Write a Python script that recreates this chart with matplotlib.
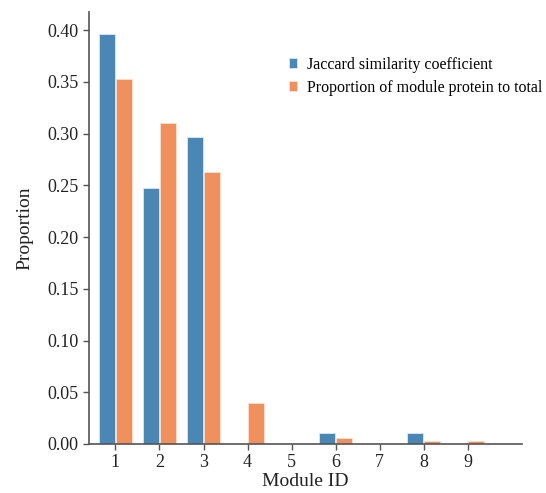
import matplotlib
matplotlib.use("Agg")
import matplotlib.pyplot as plt
import numpy as np

modules = [1, 2, 3, 4, 5, 6, 7, 8, 9]
jaccard = [0.396, 0.247, 0.297, 0.0, 0.0, 0.0104, 0.0, 0.0104, 0.0]
proportion = [0.353, 0.310, 0.263, 0.0394, 0.0, 0.0055, 0.0, 0.0032, 0.0032]
yticks = [0.00, 0.05, 0.10, 0.15, 0.20, 0.25, 0.30, 0.35, 0.40]

plt.rcParams['font.family'] = ['Liberation Serif', 'DejaVu Serif']

fig = plt.figure(figsize=(5.46, 4.93), dpi=100)
ax = fig.add_axes([0.163, 0.0994, 0.793, 0.8763])

x = np.array(modules, dtype=float)
w = 0.365
ax.bar(x - 0.19, jaccard, width=w, color='#4a87b5', edgecolor='#dbe8f3', linewidth=0.6,
       label='Jaccard similarity coefficient')
ax.bar(x + 0.19, proportion, width=w, color='#f0905c', edgecolor='#fbe0cf', linewidth=0.6,
       label='Proportion of module protein to total')

ax.set_xlim(0.4, 10.23)
ax.set_ylim(0, 0.4175)
ax.set_xticks(modules)
ax.set_yticks(yticks)
ax.set_yticklabels([f'{v:.2f}' for v in yticks])
for s in ['top', 'right']:
    ax.spines[s].set_visible(False)
for s in ['left', 'bottom']:
    ax.spines[s].set_color('#555555')
    ax.spines[s].set_linewidth(1.2)
ax.tick_params(axis='both', labelsize=13, length=4, width=1, color='#555555', labelcolor='#222222')
ax.tick_params(axis='x', pad=3)
ax.set_xlabel('Module ID', fontsize=14, color='#222222', labelpad=2)
ax.set_ylabel('Proportion', fontsize=14, color='#222222', labelpad=10)

ax.legend(loc='upper left', bbox_to_anchor=(0.428, 0.93), frameon=False, fontsize=11.5,
          handlelength=0.55, handleheight=0.6, handletextpad=0.6, labelspacing=0.45)

fig.savefig('out.png', dpi=100)
